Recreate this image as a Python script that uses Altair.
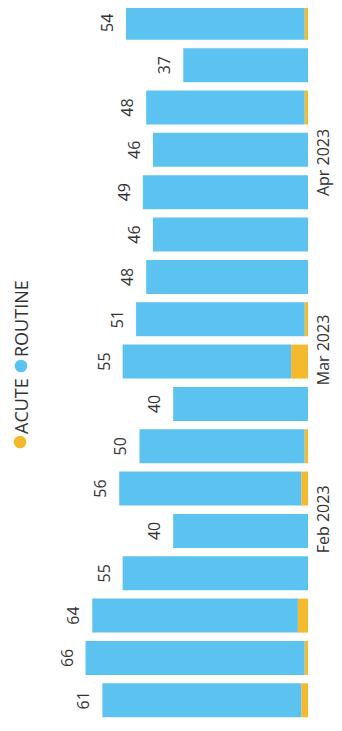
import altair as alt
import pandas as pd

# ---- data ----
weeks = [
    "2023-01-02T00:00:00", "2023-01-09T00:00:00", "2023-01-16T00:00:00",
    "2023-01-23T00:00:00", "2023-01-30T00:00:00", "2023-02-06T00:00:00",
    "2023-02-13T00:00:00", "2023-02-20T00:00:00", "2023-02-27T00:00:00",
    "2023-03-06T00:00:00", "2023-03-13T00:00:00", "2023-03-20T00:00:00",
    "2023-03-27T00:00:00", "2023-04-03T00:00:00", "2023-04-10T00:00:00",
    "2023-04-17T00:00:00", "2023-04-24T00:00:00",
]
totals = [61, 66, 64, 55, 40, 56, 50, 40, 55, 51, 48, 46, 49, 46, 48, 37, 54]
acute = [2, 1, 3, 0, 0, 2, 1, 0, 5, 1, 0, 0, 0, 0, 1, 0, 1]
routine = [t - a for t, a in zip(totals, acute)]
series = ["ACUTE", "ROUTINE"]
colors = ["#F4B92C", "#5CC2EF"]
month_ticks = ["2023-02-01T00:00:00", "2023-03-01T00:00:00", "2023-04-01T00:00:00"]

FONT = "Open Sans"
TEXT = "#333333"


def to_dt(ts):
    return alt.DateTime(year=ts.year, month=ts.month, date=ts.day,
                        hours=ts.hour, minutes=ts.minute)


rows = []
for w, a, r in zip(weeks, acute, routine):
    rows.append({"week": w, "series": series[0], "value": a, "order": 0})
    rows.append({"week": w, "series": series[1], "value": r, "order": 1})
bars_df = pd.DataFrame(rows)
totals_df = pd.DataFrame({"week": weeks, "total": totals})

y_min = pd.Timestamp(weeks[0]) - pd.Timedelta(days=2.93)
y_max = pd.Timestamp(weeks[-1]) + pd.Timedelta(days=1.63)

y_enc = alt.Y(
    "week:T",
    scale=alt.Scale(domain=[to_dt(y_min), to_dt(y_max)]),
    axis=alt.Axis(
        orient="right",
        values=[to_dt(pd.Timestamp(m)) for m in month_ticks],
        format="%b %Y",
        labelAngle=270,
        labelAlign="center",
        labelBaseline="middle",
        labelPadding=15,
        ticks=False,
        tickSize=0,
        domain=False,
        grid=False,
        title=None,
        labelFontSize=16,
        labelFont=FONT,
        labelColor=TEXT,
    ),
)
x_scale = alt.Scale(domain=[0, 89], reverse=True)

bars = alt.Chart(bars_df).mark_bar(size=34, orient="horizontal").encode(
    x=alt.X("value:Q", stack="zero", scale=x_scale, axis=None),
    y=y_enc,
    color=alt.Color("series:N", scale=alt.Scale(domain=series, range=colors), legend=None),
    order=alt.Order("order:Q"),
)

labels = alt.Chart(totals_df).mark_text(
    angle=270, align="center", baseline="middle", dy=-18,
    fontSize=16, font=FONT, color=TEXT,
).encode(
    x=alt.X("total:Q", scale=x_scale, axis=None),
    y=y_enc,
    text="total:Q",
)

# ---- rotated legend ----
leg_df0 = pd.DataFrame({"label": [series[0]]})
leg_df1 = pd.DataFrame({"label": [series[1]]})
dot0 = alt.Chart(leg_df0).mark_point(filled=True, shape="circle", size=160, opacity=1,
                                     color=colors[0]).encode(x=alt.value(12), y=alt.value(434))
txt0 = alt.Chart(leg_df0).mark_text(angle=270, align="left", baseline="middle", fontSize=18,
                                    font=FONT, color=TEXT).encode(
    x=alt.value(15), y=alt.value(426), text="label:N")
dot1 = alt.Chart(leg_df1).mark_point(filled=True, shape="circle", size=160, opacity=1,
                                     color=colors[1]).encode(x=alt.value(13), y=alt.value(358))
txt1 = alt.Chart(leg_df1).mark_text(angle=270, align="left", baseline="middle", fontSize=18,
                                    font=FONT, color=TEXT).encode(
    x=alt.value(15), y=alt.value(349), text="label:N")

chart = alt.layer(bars, labels, dot0, txt0, dot1, txt1).properties(
    width=300,
    height=715,
    autosize=alt.AutoSizeParams(type="none"),
    padding={"left": 0, "top": 0, "right": 26, "bottom": 0},
    background="white",
).configure_view(stroke=None)

chart.save("out.html", embed_options={"renderer": "svg", "actions": False})
